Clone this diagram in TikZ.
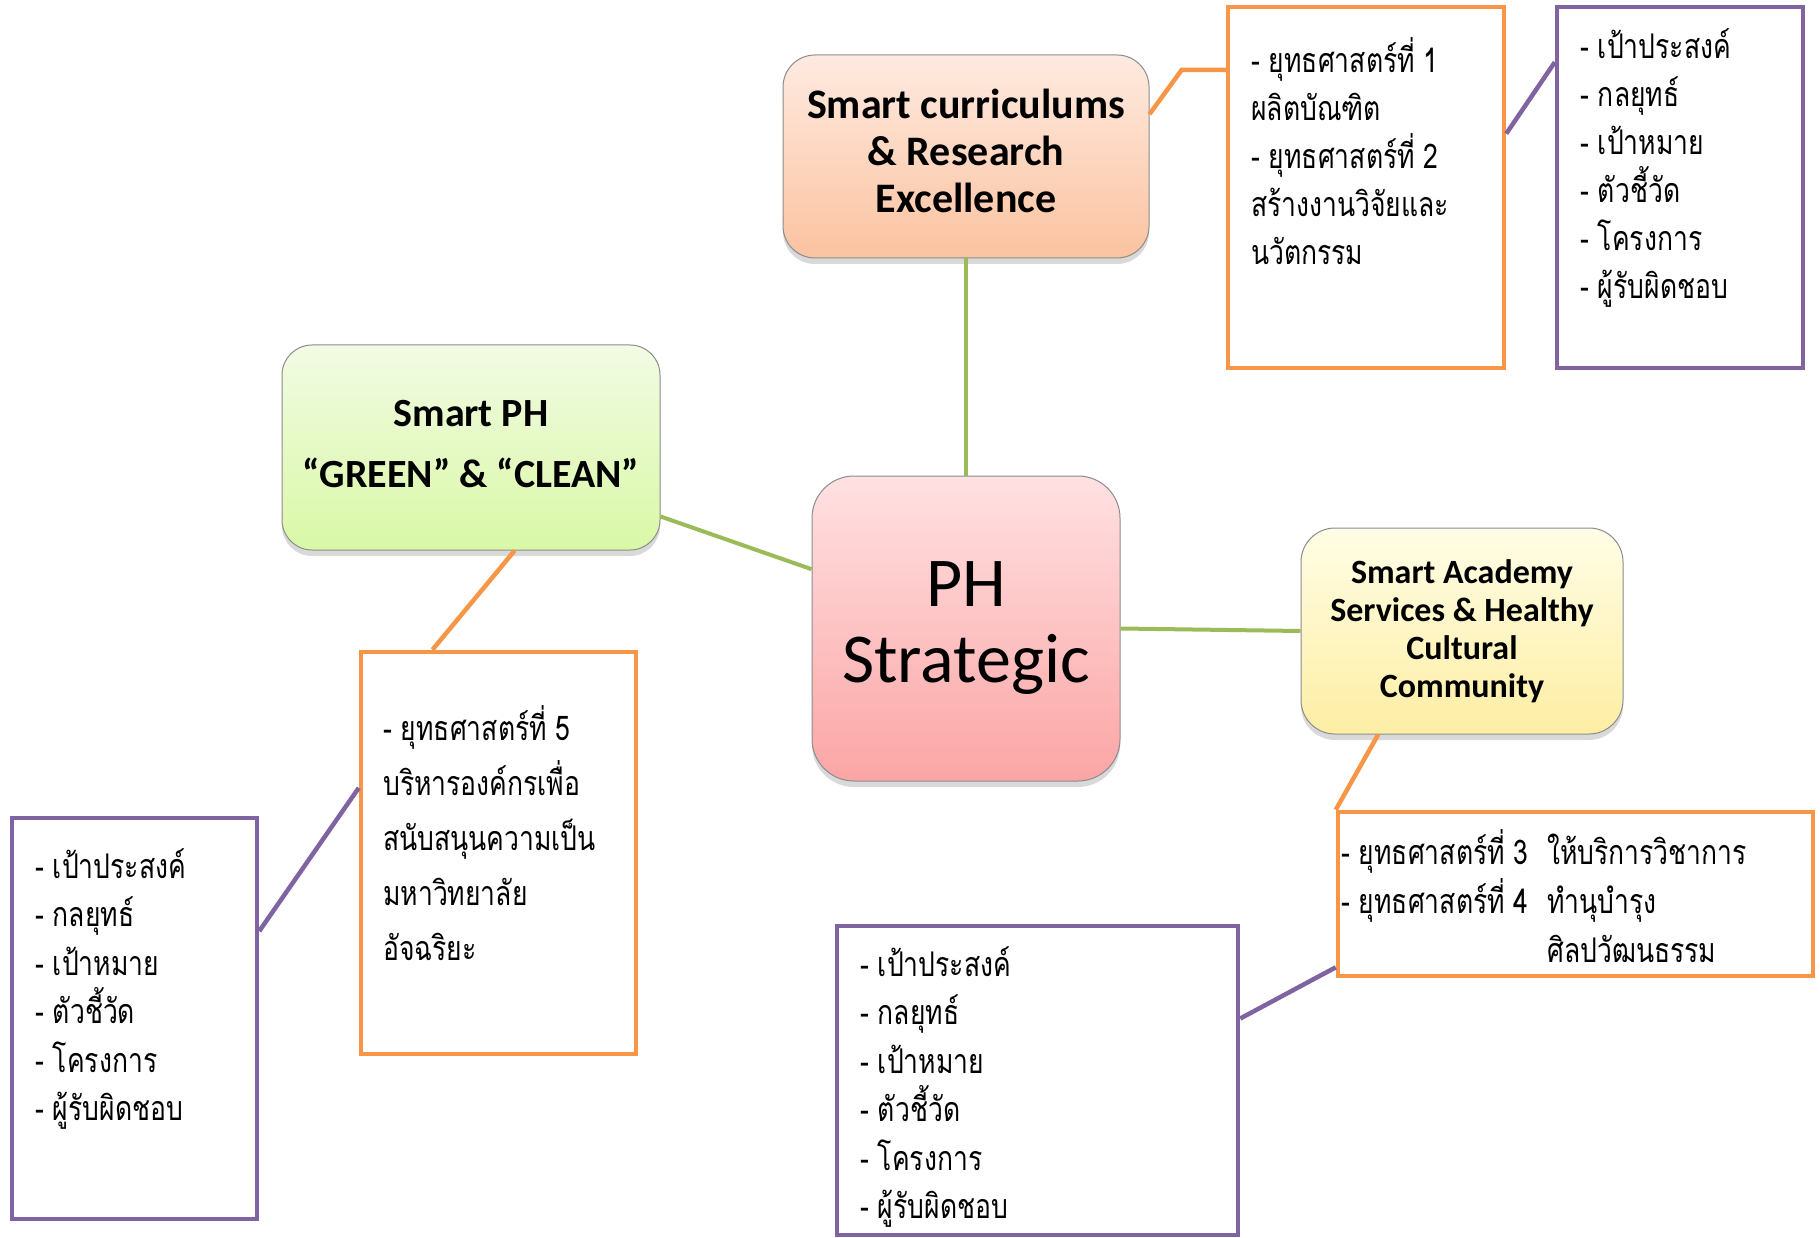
\documentclass[tikz,border=0pt]{standalone}
\usepackage{fontspec}
\setmainfont{Carlito}
\newfontfamily\thaif[Script=Thai,FakeStretch=0.78]{Loma}
\usetikzlibrary{shadows,calc}
\definecolor{lgreen}{HTML}{9BBB59}
\definecolor{lorange}{HTML}{F79646}
\definecolor{lpurple}{HTML}{8064A2}
\definecolor{peachT}{HTML}{FEEAE0}
\definecolor{peachB}{HTML}{FBC3A0}
\definecolor{greenT}{HTML}{F2FBE4}
\definecolor{greenB}{HTML}{D9F8A6}
\definecolor{pinkT}{HTML}{FFE1E2}
\definecolor{pinkB}{HTML}{FBA5A5}
\definecolor{yelT}{HTML}{FFFDE6}
\definecolor{yelB}{HTML}{FDEEA4}
\newcommand{\thaisz}{\fontsize{34}{48}\selectfont\thaif}
\begin{document}
\begin{tikzpicture}[x=1pt,y=-1pt,
  mainbox/.style={rectangle, draw=black!45, line width=1pt, align=center, inner sep=0pt,
    drop shadow={shadow xshift=0pt, shadow yshift=-6pt, opacity=0.3}},
  maintext/.style={align=center, inner sep=0pt},
  obox/.style={rectangle, draw=lorange, line width=4.5pt, inner sep=0pt},
  pbox/.style={rectangle, draw=lpurple, line width=4.5pt, inner sep=0pt},
  ttext/.style={anchor=north west, inner sep=0pt, align=left, font=\thaisz},
  gline/.style={draw=lgreen, line width=4pt},
  oline/.style={draw=lorange, line width=4.5pt},
  pline/.style={draw=lpurple, line width=4.5pt}]
\useasboundingbox (0,0) rectangle (1820,1238);

% main nodes
\node[mainbox, rounded corners=32pt, minimum width=366pt, minimum height=203pt,
  top color=peachT, bottom color=peachB] (top) at (966,156.5) {};
\node[maintext, font=\fontsize{42}{47}\selectfont\bfseries] (toptext) at ($(top.center)+(0,-6)$)
  {Smart curriculums\\\& Research\\Excellence};
\node[mainbox, rounded corners=30pt, minimum width=378pt, minimum height=205pt,
  top color=greenT, bottom color=greenB] (ph) at (471,447.5) {};
\node[maintext, font=\fontsize{40}{61}\selectfont\bfseries] (phtext) at ($(ph.center)+(0,-3)$)
  {Smart PH\\“GREEN” \& “CLEAN”};
\node[mainbox, rounded corners=42pt, minimum width=308pt, minimum height=305pt,
  top color=pinkT, bottom color=pinkB,
  font=\fontsize{70}{76}\selectfont] (c) at (966,628.5)
  {PH\\Strategic};
\node[mainbox, rounded corners=34pt, minimum width=322pt, minimum height=206pt,
  top color=yelT, bottom color=yelB,
  font=\fontsize{34}{38}\selectfont\bfseries] (y) at (1462,631)
  {Smart Academy\\Services \& Healthy\\Cultural\\Community};

% list boxes
\node[obox, minimum width=276pt, minimum height=361pt] (ob1) at (1366,187.5) {};
\node[pbox, minimum width=246pt, minimum height=361pt] (pb1) at (1680,187.5) {};
\node[obox, minimum width=275pt, minimum height=402pt] (ob5) at (498.5,853) {};
\node[pbox, minimum width=245pt, minimum height=401pt] (pb5) at (134.5,1018.5) {};
\node[obox, minimum width=475pt, minimum height=164pt] (ob34) at (1575.5,894) {};
\node[pbox, minimum width=401pt, minimum height=309pt] (pb34) at (1037.5,1080.5) {};

% texts
\node[ttext] (t1) at (1251,37) {- ยุทธศาสตร์ที่ 1\\ผลิตบัณฑิต\\- ยุทธศาสตร์ที่ 2\\สร้างงานวิจัยและ\\นวัตกรรม};
\node[ttext] (t2) at (1580,28) {- เป้าประสงค์\\- กลยุทธ์\\- เป้าหมาย\\- ตัวชี้วัด\\- โครงการ\\- ผู้รับผิดชอบ};
\node[ttext, font=\fontsize{34}{55}\selectfont\thaif] (t5) at (383,705) {- ยุทธศาสตร์ที่ 5\\บริหารองค์กรเพื่อ\\สนับสนุนความเป็น\\มหาวิทยาลัย\\อัจฉริยะ};
\node[ttext, font=\fontsize{34}{48.5}\selectfont\thaif] (t6) at (35,848) {- เป้าประสงค์\\- กลยุทธ์\\- เป้าหมาย\\- ตัวชี้วัด\\- โครงการ\\- ผู้รับผิดชอบ};
\node[ttext, font=\fontsize{34}{49}\selectfont\thaif] (t34) at (1341,829)
  {\makebox[206pt][l]{- ยุทธศาสตร์ที่ 3}ให้บริการวิชาการ\\\makebox[206pt][l]{- ยุทธศาสตร์ที่ 4}ทำนุบำรุง\\\hspace*{206pt}ศิลปวัฒนธรรม};
\node[ttext, font=\fontsize{34}{48.5}\selectfont\thaif] (t7) at (860,946) {- เป้าประสงค์\\- กลยุทธ์\\- เป้าหมาย\\- ตัวชี้วัด\\- โครงการ\\- ผู้รับผิดชอบ};

% green connectors
\draw[gline] (top.south) -- (c.north);
\draw[gline] (ph.-20.3) -- (c.159.5);
\draw[gline] (c.east) -- (y.west);

% orange connectors
\coordinate (bend1) at ($(ob1.140.6)+(-44,0)$);
\draw[oline] (top.13.4) -- (bend1) -- (ob1.140.6);
\draw[oline] (ph.-67.2) -- (ob5.108.3);
\draw[oline] (y.231.1) -- (ob34.north west);

% purple connectors
\draw[pline] (ob1.21.5) -- (pb1.135.6);
\draw[pline] (ob5.155) -- (pb5.35.2);
\draw[pline] (ob34.197.5) -- (pb34.17.6);
\end{tikzpicture}
\end{document}
